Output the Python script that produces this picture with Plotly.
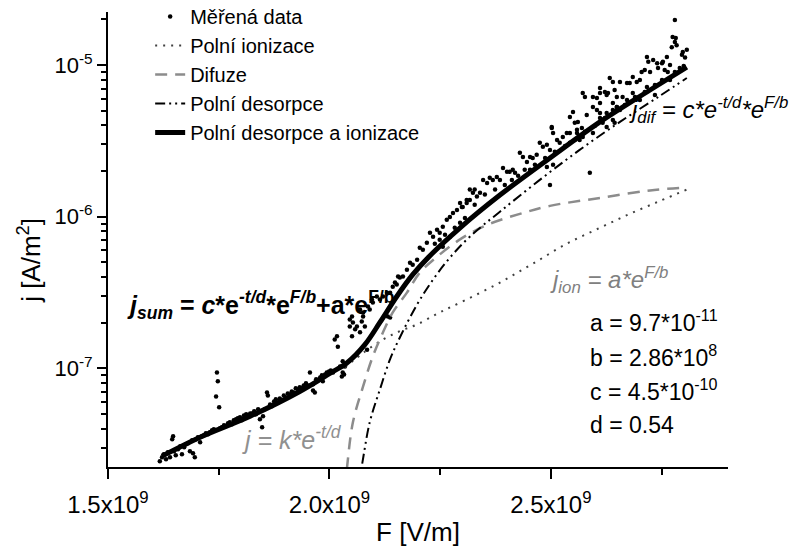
import plotly.graph_objects as go

# ---------------- data (F in units of 1e9 V/m, j in A/m^2) ----------------
meas_low = [
    (1.617, 2.44e-8), (1.622, 2.60e-8), (1.626, 2.72e-8), (1.631, 2.52e-8), (1.635, 2.80e-8),
    (1.640, 2.60e-8), (1.645, 3.41e-8), (1.647, 3.57e-8), (1.649, 2.84e-8), (1.653, 2.68e-8),
    (1.658, 2.93e-8), (1.663, 3.07e-8), (1.667, 2.72e-8), (1.672, 3.02e-8), (1.676, 3.16e-8),
    (1.681, 3.21e-8), (1.685, 2.84e-8), (1.690, 3.36e-8), (1.692, 2.76e-8), (1.696, 2.60e-8),
    (1.699, 3.41e-8), (1.703, 3.52e-8), (1.708, 3.26e-8), (1.712, 3.57e-8), (1.717, 3.62e-8),
    (1.721, 3.73e-8), (1.726, 3.68e-8), (1.730, 3.79e-8), (1.735, 3.91e-8), (1.739, 3.97e-8),
    (1.746, 9.41e-8), (1.748, 8.22e-8), (1.744, 6.54e-8), (1.751, 5.54e-8), (1.753, 4.03e-8),
    (1.757, 4.09e-8), (1.762, 4.22e-8), (1.766, 4.15e-8), (1.771, 4.35e-8), (1.775, 4.41e-8),
    (1.780, 4.28e-8), (1.784, 4.55e-8), (1.789, 4.62e-8), (1.793, 4.69e-8), (1.798, 4.76e-8),
    (1.802, 4.55e-8), (1.807, 4.90e-8), (1.812, 4.98e-8), (1.816, 4.83e-8), (1.821, 5.05e-8),
    (1.825, 5.05e-8), (1.830, 5.21e-8), (1.834, 4.98e-8), (1.839, 5.37e-8), (1.843, 4.62e-8),
    (1.848, 4.09e-8), (1.850, 4.83e-8), (1.854, 5.37e-8), (1.859, 6.95e-8), (1.861, 6.64e-8),
    (1.866, 5.79e-8), (1.870, 5.62e-8), (1.875, 6.06e-8), (1.879, 6.25e-8), (1.884, 5.97e-8),
    (1.888, 6.34e-8), (1.893, 6.16e-8), (1.897, 6.64e-8), (1.902, 6.44e-8), (1.906, 6.84e-8),
    (1.911, 6.74e-8), (1.915, 7.05e-8), (1.920, 6.95e-8), (1.924, 7.39e-8), (1.929, 7.27e-8),
    (1.933, 7.50e-8), (1.938, 7.39e-8), (1.942, 7.73e-8), (1.947, 7.97e-8), (1.951, 7.73e-8),
    (1.956, 9.41e-8), (1.963, 7.85e-8), (1.967, 6.95e-8), (1.963, 7.16e-8), (1.970, 8.47e-8),
    (1.974, 8.34e-8), (1.979, 8.72e-8), (1.983, 9.00e-8), (1.985, 8.22e-8), (1.990, 9.13e-8),
    (1.994, 9.41e-8), (1.999, 9.56e-8), (2.003, 9.70e-8), (2.008, 9.41e-8), (2.012, 1.55e-7),
    (2.017, 1.63e-7), (2.019, 1.39e-7), (2.024, 1.03e-7), (2.028, 8.86e-8), (2.030, 9.41e-8),
]

meas_mid = [
    (2.030, 1.115e-7), (2.035, 1.03e-7), (2.033, 9.13e-8), (2.046, 1.89e-7), (2.051, 2.20e-7),
    (2.053, 2.01e-7), (2.058, 1.81e-7), (2.062, 1.89e-7), (2.069, 1.73e-7), (2.051, 1.63e-7),
    (2.046, 2.10e-7), (2.069, 2.45e-7), (2.076, 2.34e-7), (2.076, 2.20e-7), (2.073, 2.04e-7),
    (2.080, 1.89e-7), (2.085, 1.33e-7), (2.087, 2.56e-7), (2.091, 2.45e-7), (2.096, 2.85e-7),
    (2.098, 2.72e-7), (2.107, 2.98e-7), (2.114, 2.85e-7), (2.121, 2.98e-7), (2.130, 3.16e-7),
    (2.132, 2.20e-7), (2.137, 2.17e-7), (2.137, 3.16e-7), (2.143, 3.46e-7), (2.148, 3.68e-7),
    (2.152, 3.57e-7), (2.155, 4.03e-7), (2.159, 3.97e-7), (2.166, 4.03e-7), (2.175, 4.48e-7),
    (2.182, 4.98e-7), (2.188, 4.83e-7), (2.198, 5.21e-7), (2.204, 6.25e-7), (2.211, 6.07e-7),
    (2.220, 6.74e-7), (2.227, 7.84e-7), (2.234, 7.38e-7), (2.243, 8.21e-7), (2.249, 7.84e-7),
    (2.256, 8.59e-7), (2.265, 9.55e-7), (2.272, 9.98e-7), (2.279, 1.06e-6), (2.288, 1.11e-6),
    (2.299, 1.16e-6), (2.310, 1.23e-6), (2.317, 1.29e-6), (2.324, 1.44e-6), (2.333, 1.36e-6),
    (2.340, 1.44e-6), (2.249, 7.06e-7), (2.256, 6.35e-7), (2.272, 7.38e-7), (2.238, 6.64e-7),
    (2.283, 8.46e-7), (2.295, 9.12e-7), (2.306, 9.83e-7), (2.261, 7.61e-7), (2.328, 1.20e-6),
]

meas_high = [
    (2.295, 1.23e-6), (2.301, 1.16e-6), (2.310, 1.29e-6), (2.317, 1.51e-6), (2.328, 1.51e-6),
    (2.347, 1.75e-6), (2.356, 1.67e-6), (2.362, 1.81e-6), (2.369, 1.75e-6), (2.378, 1.83e-6),
    (2.385, 1.75e-6), (2.392, 2.10e-6), (2.401, 1.98e-6), (2.407, 1.98e-6), (2.414, 2.04e-6),
    (2.419, 1.95e-6), (2.430, 2.64e-6), (2.437, 2.48e-6), (2.446, 2.30e-6), (2.453, 2.48e-6),
    (2.459, 2.44e-6), (2.468, 2.56e-6), (2.475, 3.07e-6), (2.482, 2.89e-6), (2.491, 2.98e-6),
    (2.498, 2.76e-6), (2.502, 3.85e-6), (2.514, 3.21e-6), (2.520, 3.07e-6), (2.527, 3.36e-6),
    (2.536, 3.57e-6), (2.543, 3.57e-6), (2.550, 4.91e-6), (2.554, 4.16e-6), (2.559, 3.74e-6),
    (2.561, 4.22e-6), (2.581, 4.69e-6), (2.595, 5.30e-6), (2.604, 5.06e-6), (2.611, 4.83e-6),
    (2.617, 4.16e-6), (2.626, 3.91e-6), (2.640, 5.06e-6), (2.649, 5.30e-6), (2.572, 6.54e-6),
    (2.611, 6.54e-6), (2.626, 6.35e-6), (2.498, 1.62e-6), (2.588, 1.95e-6), (2.505, 2.20e-6),
    (2.491, 2.13e-6), (2.543, 3.07e-6), (2.565, 3.21e-6), (2.572, 3.36e-6), (2.595, 3.57e-6),
    (2.453, 2.04e-6), (2.351, 1.40e-6), (2.374, 1.51e-6), (2.396, 1.62e-6), (2.412, 1.75e-6),
    (2.426, 1.86e-6), (2.441, 2.04e-6), (2.464, 2.20e-6), (2.487, 2.44e-6), (2.509, 2.68e-6),
    (2.532, 2.93e-6), (2.554, 3.21e-6), (2.577, 3.63e-6), (2.599, 3.97e-6), (2.622, 4.48e-6),
    (2.644, 4.91e-6),
]

meas_top = [
    (2.780, 1.98e-5), (2.775, 1.53e-5), (2.780, 1.42e-5), (2.784, 1.35e-5), (2.773, 1.31e-5),
    (2.798, 1.22e-5), (2.796, 1.17e-5), (2.803, 1.12e-5), (2.807, 1.26e-5), (2.717, 1.13e-5),
    (2.720, 1.05e-5), (2.731, 1.08e-5), (2.740, 1.03e-5), (2.753, 1.05e-5), (2.762, 1.13e-5),
    (2.769, 1.00e-5), (2.712, 9.27e-6), (2.724, 8.99e-6), (2.742, 9.57e-6), (2.757, 9.27e-6),
    (2.764, 8.99e-6), (2.685, 8.33e-6), (2.694, 7.73e-6), (2.701, 7.97e-6), (2.678, 7.61e-6),
    (2.633, 8.21e-6), (2.640, 7.73e-6), (2.656, 7.73e-6), (2.672, 7.61e-6), (2.611, 7.06e-6),
    (2.622, 6.65e-6), (2.629, 6.54e-6), (2.644, 6.85e-6), (2.577, 6.16e-6), (2.595, 6.16e-6),
    (2.604, 6.07e-6), (2.717, 7.17e-6), (2.685, 6.54e-6), (2.701, 5.89e-6), (2.672, 5.89e-6),
    (2.649, 5.30e-6), (2.656, 5.06e-6), (2.626, 4.83e-6), (2.611, 4.48e-6), (2.570, 3.85e-6),
    (2.559, 3.57e-6), (2.611, 5.63e-6), (2.640, 5.63e-6), (2.543, 4.55e-6), (2.502, 3.91e-6),
    (2.505, 3.57e-6), (2.667, 5.46e-6), (2.690, 6.16e-6), (2.712, 6.65e-6), (2.735, 7.39e-6),
    (2.751, 7.97e-6), (2.780, 8.99e-6), (2.791, 9.57e-6), (2.800, 9.86e-6), (2.649, 6.16e-6),
    (2.662, 6.16e-6), (2.640, 4.35e-6), (2.644, 4.16e-6), (2.705, 8.99e-6), (2.751, 1.03e-5),
    (2.782, 1.51e-5), (2.735, 6.35e-6), (2.769, 7.97e-6),
]

# fitted curves
F_ion = [2.035, 2.080, 2.121, 2.159, 2.198, 2.249, 2.310, 2.385, 2.459, 2.536, 2.611, 2.678, 2.746, 2.807]
j_ion = [1.015e-7, 1.29e-7, 1.55e-7, 1.76e-7, 1.95e-7, 2.34e-7, 2.85e-7, 3.68e-7, 4.90e-7, 6.64e-7,
         8.46e-7, 1.044e-6, 1.27e-6, 1.51e-6]

F_dif = [2.035, 2.040, 2.053, 2.076, 2.098, 2.121, 2.143, 2.175, 2.204, 2.243, 2.301, 2.362, 2.430,
         2.498, 2.611, 2.724, 2.807]
j_dif = [1.6e-8, 2.26e-8, 4.41e-8, 7.61e-8, 1.20e-7, 1.73e-7, 2.34e-7, 3.16e-7, 4.28e-7, 5.45e-7,
         7.28e-7, 8.98e-7, 1.044e-6, 1.18e-6, 1.33e-6, 1.49e-6, 1.56e-6]

F_des = [2.064, 2.073, 2.091, 2.114, 2.137, 2.159, 2.198, 2.234, 2.272, 2.317, 2.385, 2.475, 2.565,
         2.656, 2.746, 2.807]
j_des = [1.6e-8, 2.26e-8, 4.41e-8, 7.27e-8, 1.15e-7, 1.60e-7, 2.64e-7, 3.85e-7, 5.37e-7, 7.39e-7,
         1.08e-6, 1.75e-6, 2.76e-6, 4.22e-6, 6.26e-6, 8.22e-6]

F_sum = [1.622, 1.708, 1.821, 1.933, 2.001, 2.040, 2.080, 2.114, 2.152, 2.188, 2.227, 2.295, 2.385,
         2.498, 2.611, 2.724, 2.807]
j_sum = [2.64e-8, 3.52e-8, 4.84e-8, 7.05e-8, 9.27e-8, 1.09e-7, 1.435e-7, 2.01e-7, 2.98e-7, 4.15e-7,
         5.54e-7, 8.46e-7, 1.39e-6, 2.44e-6, 4.22e-6, 6.85e-6, 9.71e-6]

x_tickvals = [1.5e9, 2.0e9, 2.5e9]
x_ticktext = ["1.5x10<sup>9</sup>", "2.0x10<sup>9</sup>", "2.5x10<sup>9</sup>"]
x_minor = [1.75e9, 2.25e9, 2.75e9]
y_tickvals = [1e-7, 1e-6, 1e-5]
y_ticktext = ["10<sup>-7</sup>", "10<sup>-6</sup>", "10<sup>-5</sup>"]
y_minor = [m * 10.0 ** e for e in range(-8, -4) for m in range(2, 10)]

GV = 1e9
meas = meas_low + meas_mid + meas_high + meas_top
F_meas = [p[0] * GV for p in meas]
j_meas = [p[1] for p in meas]

FONT = "Liberation Sans, Arial, Helvetica, sans-serif"

fig = go.Figure()
fig.add_trace(go.Scatter(x=F_meas, y=j_meas, mode="markers", name="Měřená data",
                         marker=dict(size=4.5, color="black")))
fig.add_trace(go.Scatter(x=[f * GV for f in F_ion], y=j_ion, mode="lines", name="Polní ionizace",
                         line=dict(color="#404040", width=2, dash="2px,6px", shape="spline")))
fig.add_trace(go.Scatter(x=[f * GV for f in F_dif], y=j_dif, mode="lines", name="Difuze",
                         line=dict(color="#8c8c8c", width=2.5, dash="12px,8px", shape="spline")))
fig.add_trace(go.Scatter(x=[f * GV for f in F_des], y=j_des, mode="lines", name="Polní desorpce",
                         line=dict(color="black", width=2, dash="10px,4px,2px,4px,2px,4px", shape="spline")))
fig.add_trace(go.Scatter(x=[f * GV for f in F_sum], y=j_sum, mode="lines", name="Polní desorpce a ionizace",
                         line=dict(color="black", width=5, shape="spline", smoothing=1.0)))

axis_common = dict(showline=True, linewidth=2, linecolor="black", ticks="outside", tickwidth=2,
                   tickcolor="black", showgrid=False, zeroline=False, mirror=False, automargin=False)

fig.update_xaxes(range=[1.5e9, 2.9e9], tickmode="array", tickvals=x_tickvals, ticktext=x_ticktext,
                 ticklen=10, ticklabelstandoff=5, tickfont=dict(size=24, color="black", family=FONT),
                 title=dict(text="F [V/m]", font=dict(size=26, family=FONT), standoff=6),
                 minor=dict(tickmode="array", tickvals=x_minor, ticks="outside", ticklen=6, tickwidth=2,
                            tickcolor="black", showgrid=False),
                 **axis_common)
fig.update_yaxes(type="log", range=[-7.65, -4.65], tickmode="array", tickvals=y_tickvals,
                 ticktext=y_ticktext, ticklen=9, tickfont=dict(size=22, color="black", family=FONT),
                 minor=dict(tickmode="array", tickvals=y_minor, ticks="outside", ticklen=5, tickwidth=2,
                            tickcolor="black", showgrid=False),
                 **axis_common)

ann_common = dict(xref="paper", yref="paper", showarrow=False, xanchor="left", yanchor="middle")
annotations = [
    dict(x=0.027, y=0.356,
         text="<b><i>j</i><sub><i>sum</i></sub> = <i>c</i>*e<sup><i>-t/d</i></sup>*e<sup><i>F/b</i></sup>+a*e<sup>F/b</sup></b>",
         font=dict(size=25, color="black", family=FONT)),
    dict(x=0.837, y=0.785,
         text="<i>j<sub>dif</sub> = c*e<sup>-t/d</sup>*e<sup>F/b</sup></i>",
         font=dict(size=24, color="black", family=FONT)),
    dict(x=0.710, y=0.411,
         text="<i>j<sub>ion</sub> = a*e<sup>F/b</sup></i>",
         font=dict(size=24, color="#808080", family=FONT)),
    dict(x=0.213, y=0.064,
         text="<i>j = k*e<sup>-t/d</sup></i>",
         font=dict(size=25, color="#909090", family=FONT)),
    dict(x=0.774, y=0.321, text="a = 9.7*10<sup>-11</sup>", font=dict(size=23, color="black", family=FONT)),
    dict(x=0.774, y=0.244, text="b = 2.86*10<sup>8</sup>", font=dict(size=23, color="black", family=FONT)),
    dict(x=0.774, y=0.169, text="c = 4.5*10<sup>-10</sup>", font=dict(size=23, color="black", family=FONT)),
    dict(x=0.774, y=0.092, text="d = 0.54", font=dict(size=23, color="black", family=FONT)),
]
for a in annotations:
    a.update(ann_common)
# y-axis title (placed as rotated text so its vertical position matches)
annotations.append(dict(x=-0.126, y=0.455, xref="paper", yref="paper", showarrow=False,
                        xanchor="center", yanchor="middle", textangle=-90,
                        text="j [A/m<sup>2</sup>]", font=dict(size=26, color="black", family=FONT)))

fig.update_layout(
    width=794, height=548,
    margin=dict(l=108, r=66, t=12, b=81, autoexpand=False),
    plot_bgcolor="white", paper_bgcolor="white",
    font=dict(family=FONT, color="black", size=20),
    showlegend=True,
    legend=dict(x=0.068, y=1.033, xanchor="left", yanchor="top", bgcolor="rgba(0,0,0,0)",
                font=dict(size=20, family=FONT, color="black"), tracegroupgap=0, borderwidth=0),
    annotations=annotations,
)

fig.write_html("out.html")
